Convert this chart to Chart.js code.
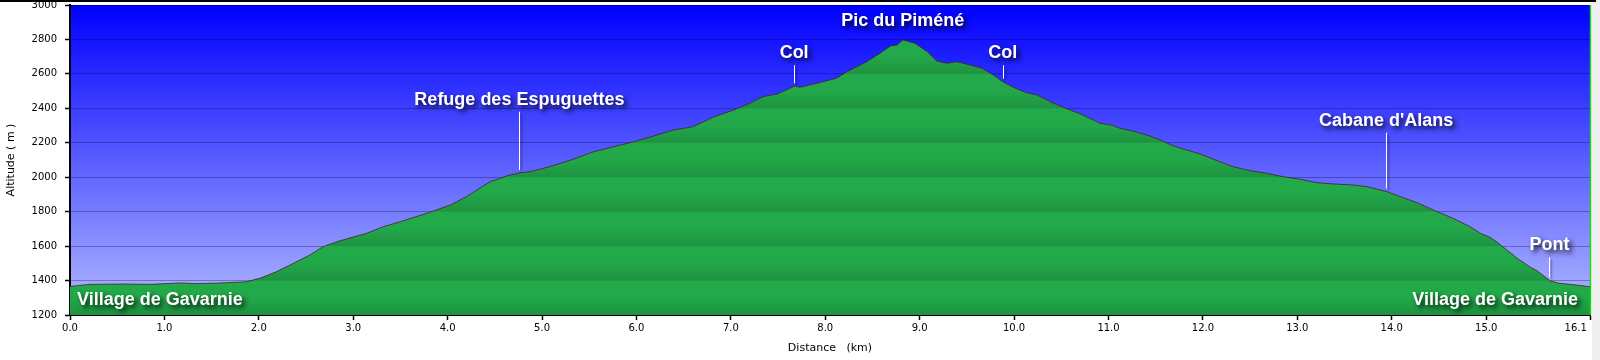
<!DOCTYPE html>
<html>
<head>
<meta charset="utf-8">
<script src="https://cdn.jsdelivr.net/npm/chart.js@4.4.1/dist/chart.umd.min.js"></script>
<style>
  html, body { margin: 0; padding: 0; background: #fff; }
  #wrap { width: 1600px; height: 360px; }
</style>
</head>
<body>
<div id="wrap"><canvas id="profile" width="1600" height="360"></canvas></div>
<script>
// elevation profile
const distKm = [
  0.00, 0.10, 0.22, 0.56, 0.85, 1.17, 1.34, 1.60, 1.87, 2.01,
  2.19, 2.33, 2.54, 2.68, 2.86, 3.14, 3.32, 3.50, 3.81, 4.03,
  4.20, 4.45, 4.56, 4.63, 4.77, 4.87, 5.08, 5.33, 5.54, 5.76,
  5.97, 6.18, 6.39, 6.60, 6.81, 7.03, 7.20, 7.34, 7.49, 7.68,
  7.73, 7.91, 8.12, 8.23, 8.44, 8.58, 8.69, 8.76, 8.82, 8.95,
  9.08, 9.18, 9.29, 9.39, 9.53, 9.66, 9.78, 9.88, 9.99, 10.13,
  10.24, 10.38, 10.52, 10.73, 10.91, 11.03, 11.12, 11.26, 11.44, 11.55,
  11.69, 11.83, 11.97, 12.15, 12.32, 12.50, 12.68, 12.85, 13.03, 13.21,
  13.38, 13.59, 13.74, 13.95, 14.09, 14.27, 14.48, 14.65, 14.83, 14.94,
  15.04, 15.11, 15.22, 15.33, 15.47, 15.54, 15.68, 15.78, 15.96, 16.10
];
const altitude = [
  1365, 1372, 1378, 1380, 1378, 1386, 1382, 1386, 1393, 1413,
  1452, 1490, 1548, 1597, 1631, 1674, 1713, 1742, 1796, 1839,
  1887, 1974, 1994, 2009, 2026, 2032, 2061, 2104, 2147, 2177,
  2206, 2239, 2274, 2293, 2348, 2390, 2429, 2468, 2483, 2530,
  2522, 2545, 2575, 2613, 2671, 2720, 2762, 2768, 2797, 2778,
  2729, 2675, 2662, 2671, 2652, 2633, 2594, 2555, 2522, 2491,
  2478, 2439, 2406, 2361, 2313, 2303, 2284, 2268, 2239, 2216,
  2181, 2158, 2135, 2096, 2061, 2038, 2023, 2003, 1988, 1968,
  1961, 1955, 1945, 1916, 1887, 1852, 1800, 1761, 1713, 1674,
  1651, 1626, 1577, 1529, 1477, 1457, 1397, 1384, 1374, 1364
];

const xTickValues = [0, 1, 2, 3, 4, 5, 6, 7, 8, 9, 10, 11, 12, 13, 14, 15, 16.1];
const yMin = 1200, yMax = 3000, yStep = 200;

// waypoints
const markerNames = ['Village de Gavarnie', 'Refuge des Espuguettes', 'Col', 'Pic du Piméné',
                     'Col', "Cabane d'Alans", 'Pont', 'Village de Gavarnie'];
const markerKm = [0, 4.76, 7.67, 8.82, 9.88, 13.94, 15.67, 16.1];
const markerLabelAlt = [1289, 2450, 2720, 2906, 2720, 2328, 1604, 1289];
const markerPointer = [false, true, true, false, true, true, true, false];

function altAt(km) {
  for (let i = 1; i < distKm.length; i++) {
    if (km <= distKm[i]) {
      const t = (km - distKm[i - 1]) / (distKm[i] - distKm[i - 1]);
      return altitude[i - 1] + t * (altitude[i] - altitude[i - 1]);
    }
  }
  return altitude[altitude.length - 1];
}

function greenBands(context) {
  const chart = context.chart;
  const area = chart.chartArea;
  if (!area) return '#22a84a';
  const y = chart.scales.y;
  const span = area.bottom - area.top;
  const g = chart.ctx.createLinearGradient(0, area.top, 0, area.bottom);
  for (let v = yMax; v > yMin; v -= yStep) {
    const t0 = (y.getPixelForValue(v) - area.top) / span;
    const t1 = (y.getPixelForValue(v - yStep) - area.top) / span;
    const d = t1 - t0;
    g.addColorStop(Math.max(0, t0 + 0.002), '#22ab4a');
    g.addColorStop(t0 + d * 0.5, '#22a849');
    g.addColorStop(Math.min(1, t1 - 0.002), '#1e9341');
  }
  return g;
}

const backdrop = {
  id: 'backdrop',
  beforeDraw(chart) {
    const { ctx, chartArea: a, width, height } = chart;
    ctx.save();
    ctx.fillStyle = '#ffffff';
    ctx.fillRect(0, 0, width, height);
    ctx.fillStyle = '#efefef';
    ctx.fillRect(a.right + 2, 0, width - a.right - 2, height);
    const sky = ctx.createLinearGradient(0, a.top, 0, a.bottom);
    sky.addColorStop(0, '#0000ff');
    sky.addColorStop(1, '#b2baff');
    ctx.fillStyle = sky;
    ctx.fillRect(a.left, a.top, a.right - a.left, a.bottom - a.top);
    ctx.restore();
  },
  afterDraw(chart) {
    const { ctx, chartArea: a } = chart;
    ctx.save();
    ctx.strokeStyle = '#000';
    ctx.lineWidth = 2;
    ctx.beginPath();
    ctx.moveTo(0, 1);
    ctx.lineTo(a.right + 6, 1);
    ctx.stroke();
    ctx.strokeStyle = '#11dd11';
    ctx.lineWidth = 1.5;
    ctx.beginPath();
    ctx.moveTo(a.right + 0.5, a.top);
    ctx.lineTo(a.right + 0.5, a.bottom);
    ctx.stroke();
    ctx.restore();
  }
};

const waypoints = {
  id: 'waypoints',
  afterDraw(chart) {
    const { ctx, scales: { x, y } } = chart;
    ctx.save();
    ctx.font = 'bold 18px "Liberation Sans", Arial, sans-serif';
    ctx.textBaseline = 'middle';
    markerNames.forEach((name, i) => {
      const px = x.getPixelForValue(markerKm[i]);
      const py = y.getPixelForValue(markerLabelAlt[i]);
      if (markerPointer[i]) {
        const bottom = y.getPixelForValue(altAt(markerKm[i])) - 3;
        ctx.shadowColor = 'rgba(0,0,40,0.45)';
        ctx.shadowBlur = 2;
        ctx.shadowOffsetX = 2;
        ctx.shadowOffsetY = 2;
        ctx.strokeStyle = '#ffffff';
        ctx.lineWidth = 1;
        ctx.beginPath();
        ctx.moveTo(Math.round(px) + 0.5, py + 12);
        ctx.lineTo(Math.round(px) + 0.5, bottom);
        ctx.stroke();
      }
      let tx = px, align = 'center';
      if (markerKm[i] === 0) { tx = px + 7; align = 'left'; }
      if (markerKm[i] === x.max) { tx = px - 12; align = 'right'; }
      ctx.textAlign = align;
      ctx.shadowColor = 'rgba(0,0,0,0.85)';
      ctx.shadowBlur = 5;
      ctx.shadowOffsetX = 3;
      ctx.shadowOffsetY = 3;
      ctx.fillStyle = '#ffffff';
      ctx.fillText(name, tx, py);
    });
    ctx.restore();
  }
};

Chart.defaults.font.family = '"DejaVu Sans", Verdana, sans-serif';
Chart.defaults.font.size = 10;
Chart.defaults.color = '#000';

new Chart(document.getElementById('profile'), {
  type: 'line',
  data: {
    datasets: [{
      data: distKm.map((d, i) => ({ x: d, y: altitude[i] })),
      borderColor: 'rgba(70,35,35,0.8)',
      borderWidth: 1,
      backgroundColor: greenBands,
      fill: 'start',
      pointRadius: 0,
      tension: 0
    }]
  },
  options: {
    responsive: false,
    animation: false,
    devicePixelRatio: 1,
    layout: { padding: { left: 0, right: 10, top: 5, bottom: 0 } },
    plugins: { legend: { display: false }, tooltip: { enabled: false } },
    scales: {
      x: {
        type: 'linear',
        min: 0,
        max: 16.1,
        z: 1,
        afterBuildTicks: s => { s.ticks = xTickValues.map(v => ({ value: v })); },
        afterFit: s => { s.height = 45; s.paddingLeft = 0; s.paddingRight = 0; },
        ticks: {
          autoSkip: false,
          maxRotation: 0,
          padding: 2,
          // last label sits left of its tick, as in the original
          callback: (v, i, ticks) => Number(v).toFixed(1) + (i === ticks.length - 1 ? '         ' : '')
        },
        grid: { drawOnChartArea: false, tickLength: 5, tickColor: '#000', tickWidth: 1.5 },
        border: { color: '#000', width: 2 },
        title: { display: true, text: 'Distance   (km)', font: { size: 11 }, padding: { top: 5, bottom: 5 } }
      },
      y: {
        min: yMin,
        max: yMax,
        z: 1,
        afterFit: s => { s.width = 70; s.paddingTop = 0; s.paddingBottom = 0; },
        ticks: { stepSize: yStep, padding: 8, callback: v => String(v) },
        grid: { color: 'rgba(0,0,50,0.3)', lineWidth: 1, tickLength: 5, tickColor: '#000', tickWidth: 1.5 },
        border: { color: '#000', width: 2 },
        title: { display: true, text: 'Altitude ( m )', font: { size: 11 }, padding: { top: 5, bottom: 5 } }
      }
    }
  },
  plugins: [backdrop, waypoints]
});
</script>
</body>
</html>
